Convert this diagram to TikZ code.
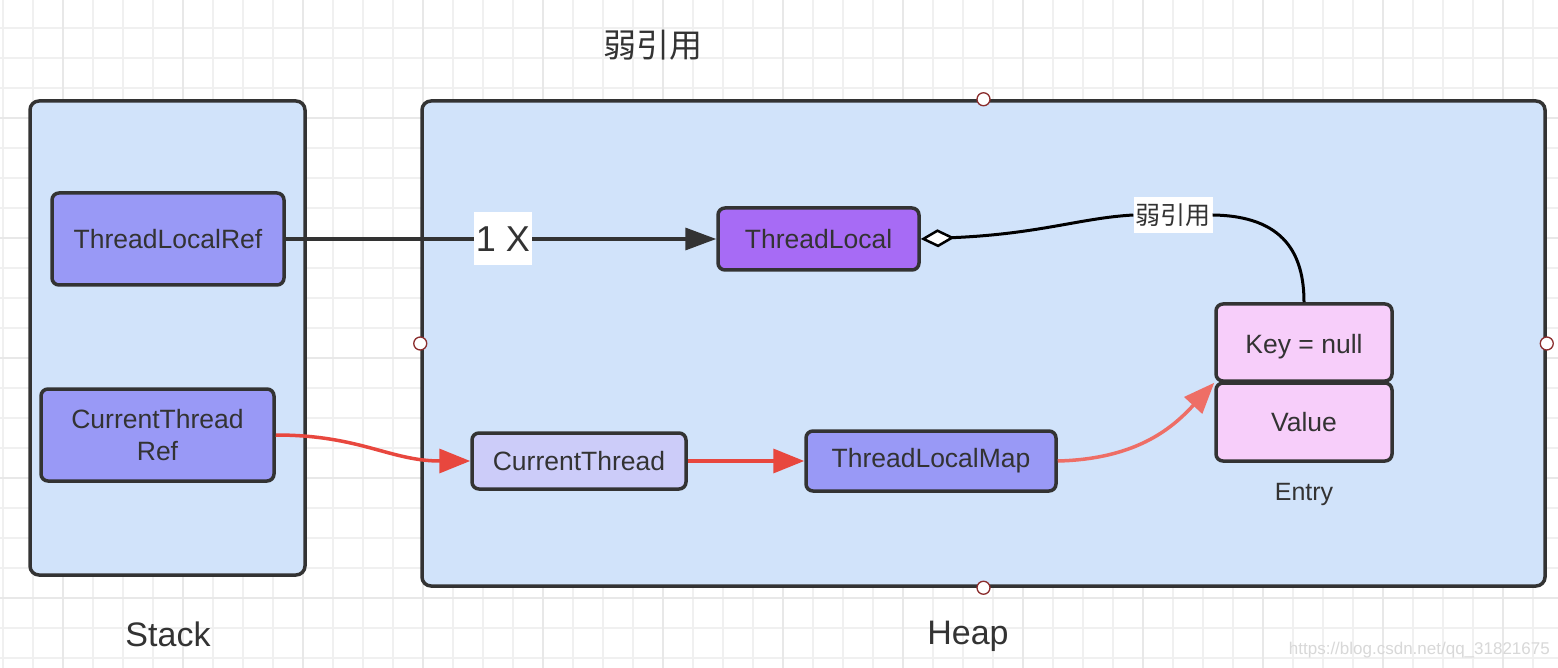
\documentclass[tikz,border=0pt]{standalone}
\usepackage{fontspec}
\setmainfont{Liberation Sans}
\newfontfamily\cjk{Noto Sans CJK SC}
\usetikzlibrary{arrows.meta}
\definecolor{bgblue}{HTML}{D1E3FA}
\definecolor{peri}{HTML}{9999F6}
\definecolor{purp}{HTML}{A76BF5}
\definecolor{lav}{HTML}{CCCCF9}
\definecolor{pinkc}{HTML}{F7CEFA}
\definecolor{dark}{HTML}{333333}
\definecolor{redc}{HTML}{E8473E}
\definecolor{salmon}{HTML}{EE6E66}
\definecolor{gridc}{HTML}{F0F0F0}
\definecolor{gridd}{HTML}{E8E8E8}
\definecolor{handle}{HTML}{8B2E2E}
\tikzset{
  container/.style={draw=dark, line width=3.5pt, rounded corners=9pt, fill=bgblue, inner sep=0pt},
  item/.style={draw=dark, line width=3.5pt, rounded corners=7pt, inner sep=0pt, text=dark,
     font=\fontsize{26.5}{32}\selectfont, align=center},
  handlec/.style={circle, draw=handle, fill=white, line width=1.3pt, minimum size=13pt, inner sep=0pt},
  caption/.style={text=dark, inner sep=0pt},
  darkarrow/.style={draw=dark, line width=3.5pt, -{Triangle[length=31pt,width=22pt]}},
  redarrow/.style={draw=redc, line width=3.5pt, -{Triangle[length=31pt,width=24pt]}},
  salarrow/.style={draw=salmon, line width=3.5pt, -{Triangle[length=31pt,width=24pt]}},
}
\begin{document}
\begin{tikzpicture}[x=1pt,y=-1pt]
\useasboundingbox (0,0) rectangle (1558,668);
\fill[white] (0,0) rectangle (1558,668);
% grid
\foreach \x in {3,33,...,1557} \draw[gridc, line width=1.5pt] (\x,0) -- (\x,668);
\foreach \y in {28,58,...,667} \draw[gridc, line width=1.5pt] (0,\y) -- (1558,\y);
\foreach \x in {63,183,...,1557} \draw[gridd, line width=2pt] (\x,0) -- (\x,668);
\foreach \y in {118,238,...,667} \draw[gridd, line width=2pt] (0,\y) -- (1558,\y);

% containers
\node[container, minimum width=275pt, minimum height=474pt] (stack) at (167.5,338) {};
\node[container, minimum width=1123pt, minimum height=485pt] (heap) at (983.5,343.5) {};
\node[handlec] (h1) at (heap.north) {};
\node[handlec] (h2) at (heap.south) {};
\node[handlec] (h3) at (heap.west) {};
\node[handlec] (h4) at (heap.east) {};

% items
\node[item, fill=peri, minimum width=232pt, minimum height=92pt] (tlr) at (168,239) {ThreadLocalRef};
\node[item, fill=peri, minimum width=233pt, minimum height=92pt] (ctr) at (157.5,435) {CurrentThread\\Ref};
\node[item, fill=purp, minimum width=201pt, minimum height=62pt] (tl) at (818.5,239) {ThreadLocal};
\node[item, fill=lav, minimum width=214pt, minimum height=56pt] (ct) at (579,461) {CurrentThread};
\node[item, fill=peri, minimum width=250pt, minimum height=60pt] (tlm) at (931,461) {ThreadLocalMap};
\node[item, fill=pinkc, minimum width=176pt, minimum height=77pt, text height=27pt, text depth=5.5pt] (key) at (1304,342.5) {Key = null};
\node[item, fill=pinkc, minimum width=176pt, minimum height=78pt] (val) at (1304,422) {Value};

% captions
\node[caption, font=\fontsize{25}{28}\selectfont] (entry) at (1304,494) {Entry};
\node[caption, font=\fontsize{34}{40}\selectfont] (stacklbl) at (168,634) {Stack};
\node[caption, font=\fontsize{34}{40}\selectfont] (heaplbl) at (968,636) {Heap};
\node[caption, font=\cjk\fontsize{33}{38}\selectfont] (title) at (653,45) {弱引用};
\node[text=gridd!85!gray, inner sep=0pt, anchor=east, font=\fontsize{17}{20}\selectfont] (wm) at (1550,650) {https://blog.csdn.net/qq\_31821675};

% connectors
\node[fill=white, text=dark, inner sep=2pt, minimum width=54pt, minimum height=53pt, font=\fontsize{36}{40}\selectfont] (onex) at (503,239) {1 X};
\draw[dark, line width=3.5pt] (tlr.east) -- (onex.west);
\draw[darkarrow] (onex.east) -- (tl.west);

\node[fill=white, text=dark, inner sep=2pt, minimum height=36pt, font=\cjk\fontsize{25}{28}\selectfont] (weak) at (1173,215) {弱引用};
\draw[black, line width=3pt, {Diamond[length=34pt,width=18pt,fill=white,line width=2.5pt]}-]
  (tl.east) .. controls (1040,234) and (1080,218) .. (weak.west);
\draw[black, line width=3pt] (weak.east) .. controls (1285,216) and (1304,255) .. (key.north);

\draw[redarrow] (ctr.east |- 435,435) .. controls (360,435) and (390,461) .. (ct.west);
\draw[redarrow] (ct.east) -- (tlm.west);
\draw[salarrow] (tlm.east) .. controls (1140,459) and (1175,425) .. (key.south west);
\end{tikzpicture}
\end{document}
